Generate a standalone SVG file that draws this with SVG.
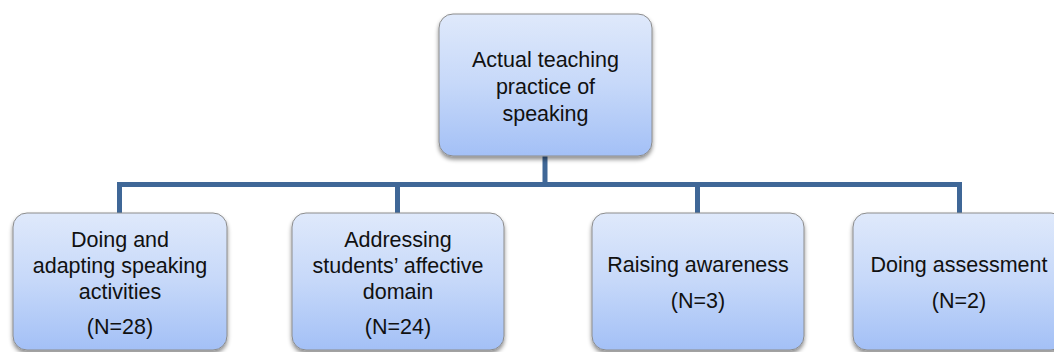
<svg xmlns="http://www.w3.org/2000/svg" width="1054" height="352" viewBox="0 0 1054 352">
  <defs>
    <linearGradient id="fill" x1="0" y1="0" x2="0" y2="1">
      <stop offset="0" stop-color="#dfe9fb"/>
      <stop offset="0.5" stop-color="#c6d8f9"/>
      <stop offset="1" stop-color="#a3c0f6"/>
    </linearGradient>
    <filter id="shadow" x="-10%" y="-10%" width="120%" height="130%">
      <feDropShadow dx="0" dy="3" stdDeviation="2" flood-color="#000" flood-opacity="0.45"/>
    </filter>
    <style>
      .box { fill: url(#fill); stroke: #8c8c8c; stroke-width: 1; filter: url(#shadow); }
      .lbl { font-family: "Liberation Sans", Arial, sans-serif; font-size: 21.5px; fill: #111; text-anchor: middle; }
      .conn { fill: none; stroke: #3f6797; stroke-width: 5; stroke-linejoin: miter; stroke-linecap: butt; }
    </style>
  </defs>
  <rect width="1054" height="352" fill="#fff"/>
  <g id="connectors">
    <path class="conn" d="M545,156 V184.5"/>
    <path class="conn" d="M119.5,213 V184.5 H959.5 V213"/>
    <path class="conn" d="M397.5,184.5 V213"/>
    <path class="conn" d="M697.5,184.5 V213"/>
  </g>
  <g id="root">
    <rect class="box" x="439" y="14" width="213" height="142" rx="14"/>
    <text class="lbl" x="545.5" y="67">Actual teaching</text>
    <text class="lbl" x="545.5" y="94">practice of</text>
    <text class="lbl" x="545.5" y="121">speaking</text>
  </g>
  <g id="n1">
    <rect class="box" x="13" y="213" width="214" height="137" rx="14"/>
    <text class="lbl" x="120" y="247">Doing and</text>
    <text class="lbl" x="120" y="273">adapting speaking</text>
    <text class="lbl" x="120" y="299">activities</text>
    <text class="lbl" x="120" y="334">(N=28)</text>
  </g>
  <g id="n2">
    <rect class="box" x="292" y="213" width="212" height="137" rx="14"/>
    <text class="lbl" x="398" y="247">Addressing</text>
    <text class="lbl" x="398" y="273">students’ affective</text>
    <text class="lbl" x="398" y="299">domain</text>
    <text class="lbl" x="398" y="334">(N=24)</text>
  </g>
  <g id="n3">
    <rect class="box" x="592" y="213" width="212" height="137" rx="14"/>
    <text class="lbl" x="698" y="272">Raising awareness</text>
    <text class="lbl" x="698" y="308">(N=3)</text>
  </g>
  <g id="n4">
    <rect class="box" x="853" y="213" width="212" height="137" rx="14"/>
    <text class="lbl" x="959" y="272">Doing assessment</text>
    <text class="lbl" x="959" y="308">(N=2)</text>
  </g>
</svg>
